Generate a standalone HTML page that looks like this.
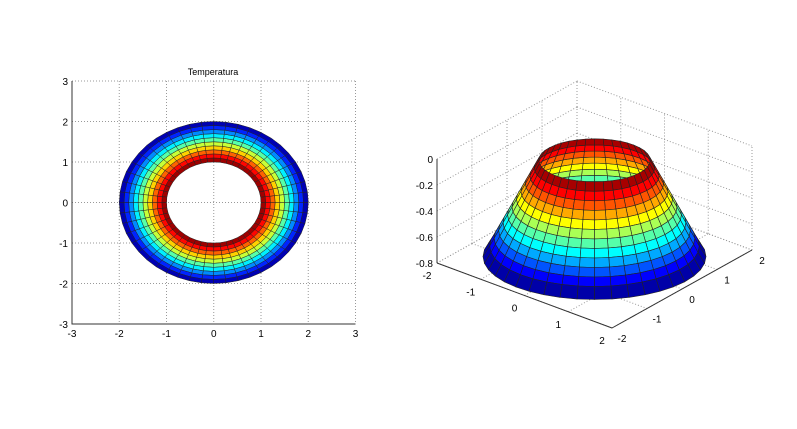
<!DOCTYPE html>
<html><head><meta charset="utf-8"><style>
html,body{margin:0;padding:0;background:#fff;}
svg{display:block;font-family:"Liberation Sans",sans-serif;}
</style></head><body>
<svg id="fig" width="797" height="429" viewBox="0 0 797 429">
<rect width="797" height="429" fill="#fff"/>
<g id="left"></g>
<g id="right"></g>
</svg>
<script>
// ---- data: left plot ----
const xTicks = [-3,-2,-1,0,1,2,3];
const yTicks = [-3,-2,-1,0,1,2,3];
const ringRadii = [1,1.1,1.2,1.3,1.4,1.5,1.6,1.7,1.8,1.9,2];
const ringTemps = [0.97,0.87,0.78,0.67,0.57,0.46,0.36,0.26,0.16,0.05];
const nSeg = 48;
// ---- data: right plot ----
const uTicks = [-2,-1,0,1,2];
const vTicks = [-2,-1,0,1,2];
const zTicks = [0,-0.2,-0.4,-0.6,-0.8];
const coneZ = [-0.06,-0.12,-0.18,-0.24,-0.3,-0.36,-0.42,-0.48,-0.54,-0.6,-0.66,-0.72,-0.8];
const coneR = [1,1.08,1.16,1.24,1.32,1.4,1.48,1.56,1.64,1.72,1.8,1.88,2];
const coneSeg = 40;

const NS="http://www.w3.org/2000/svg";
function mk(tag,attrs,parent){const e=document.createElementNS(NS,tag);for(const k in attrs)e.setAttribute(k,attrs[k]);parent.appendChild(e);return e;}
function jet(t){t=Math.max(0,Math.min(1,t));
 const f=x=>Math.max(0,Math.min(1,x));
 const r=f(1.5-Math.abs(4*t-3)),g=f(1.5-Math.abs(4*t-2)),b=f(1.5-Math.abs(4*t-1));
 return `rgb(${Math.round(r*255)},${Math.round(g*255)},${Math.round(b*255)})`;}

// ===== Left plot =====
const L=document.getElementById('left');
const xs=v=>213.75+v*47.25, ys=v=>202.5-v*40.5;
xTicks.forEach(t=>{
 const gl=mk('line',{x1:xs(t),y1:81,x2:xs(t),y2:324,stroke:'#999','stroke-dasharray':'1,2','stroke-width':1},L);
 
 const tx=mk('text',{x:xs(t),y:337,'font-size':10,'text-anchor':'middle',fill:'#000'},L);tx.textContent=t;
 
});
yTicks.forEach(t=>{
 const gl=mk('line',{x1:72,y1:ys(t),x2:355.5,y2:ys(t),stroke:'#999','stroke-dasharray':'1,2','stroke-width':1},L);
 
 const tx=mk('text',{x:68,y:ys(t)+4,'font-size':10,'text-anchor':'end',fill:'#000'},L);tx.textContent=t;
 
});
const ax=mk('path',{d:'M72,81 L72,324 L355.5,324',fill:'none',stroke:'#333','stroke-width':1},L);

const ttl=mk('text',{x:213,y:75,'font-size':9,'text-anchor':'middle',fill:'#000'},L);ttl.textContent='Temperatura';

for(let i=0;i<ringTemps.length;i++){
 const r0=ringRadii[i],r1=ringRadii[i+1];
 for(let j=0;j<nSeg;j++){
  const a0=2*Math.PI*j/nSeg,a1=2*Math.PI*(j+1)/nSeg;
  const p=[[r0,a0],[r1,a0],[r1,a1],[r0,a1]].map(([r,a])=>xs(r*Math.cos(a)).toFixed(1)+','+ys(r*Math.sin(a)).toFixed(1)).join(' ');
  const q=mk('polygon',{points:p,fill:jet(ringTemps[i]),stroke:'#222','stroke-width':0.5},L);
  
 }
}

// ===== Right plot (3D) =====
const R=document.getElementById('right');
const A=[437,263],B=[612,328],C=[752,250];
const U=[(B[0]-A[0])/4,(B[1]-A[1])/4], V=[(C[0]-B[0])/4,(C[1]-B[1])/4], ZS=130;
function P(u,v,z){return [A[0]+(u+2)*U[0]+(v+2)*V[0], A[1]+(u+2)*U[1]+(v+2)*V[1]-(z+0.8)*ZS];}
function ln(p,q,attrs,name){const e=mk('line',Object.assign({x1:p[0],y1:p[1],x2:q[0],y2:q[1]},attrs),R);
 return e;}
const dot={stroke:'#999','stroke-dasharray':'1,2','stroke-width':1};
uTicks.forEach(u=>ln(P(u,-2,-0.8),P(u,2,-0.8),dot,'floor-grid-line'));
vTicks.forEach(v=>ln(P(-2,v,-0.8),P(2,v,-0.8),dot,'floor-grid-line'));
vTicks.forEach(v=>ln(P(-2,v,-0.8),P(-2,v,0),dot,'wall-grid-line'));
uTicks.forEach(u=>ln(P(u,2,-0.8),P(u,2,0),dot,'wall-grid-line'));
zTicks.forEach(z=>{ln(P(-2,-2,z),P(-2,2,z),dot,'wall-grid-line');ln(P(-2,2,z),P(2,2,z),dot,'wall-grid-line');});
const ax3={stroke:'#333','stroke-width':1};
ln(P(-2,-2,-0.8),P(2,-2,-0.8),ax3,'u-axis');
ln(P(2,-2,-0.8),P(2,2,-0.8),ax3,'v-axis');
ln(P(-2,-2,-0.8),P(-2,-2,0),ax3,'z-axis');
uTicks.forEach(u=>{const p=P(u,-2,-0.8);
 const t=mk('text',{x:p[0]-10,y:p[1]+16,'font-size':10,'text-anchor':'middle'},R);t.textContent=u;
 });
vTicks.forEach(v=>{const p=P(2,v,-0.8);
 const t=mk('text',{x:p[0]+10,y:p[1]+14,'font-size':10,'text-anchor':'middle'},R);t.textContent=v;
 });
zTicks.forEach(z=>{const p=P(-2,-2,z);
 const t=mk('text',{x:p[0]-4,y:p[1]+4,'font-size':10,'text-anchor':'end'},R);t.textContent=z;
 });
const cx=594.5, aK=55.75, bK=21.5;
function cp(r,z,th){const c=P(0,0,z);return [cx+r*aK*Math.cos(th), c[1]+r*bK*Math.sin(th)];}
const zMin=Math.min(...coneZ), zMax=Math.max(...coneZ);
const faces=[];
for(let i=0;i<coneZ.length-1;i++){
 for(let j=0;j<coneSeg;j++){
  const t0=2*Math.PI*j/coneSeg,t1=2*Math.PI*(j+1)/coneSeg;
  const pts=[cp(coneR[i],coneZ[i],t0),cp(coneR[i+1],coneZ[i+1],t0),cp(coneR[i+1],coneZ[i+1],t1),cp(coneR[i],coneZ[i],t1)];
  const depth=Math.sin((t0+t1)/2)*(coneR[i]+coneR[i+1]);
  const n=coneZ.length-2;
  faces.push({pts,depth,col:jet(0.04+0.92*(n-i)/n)});
 }
}
faces.sort((a,b)=>a.depth-b.depth);
faces.forEach(f=>{
 const q=mk('polygon',{points:f.pts.map(p=>p[0].toFixed(1)+','+p[1].toFixed(1)).join(' '),fill:f.col,stroke:'#222','stroke-width':0.6},R);
 
});
</script>
</body></html>
